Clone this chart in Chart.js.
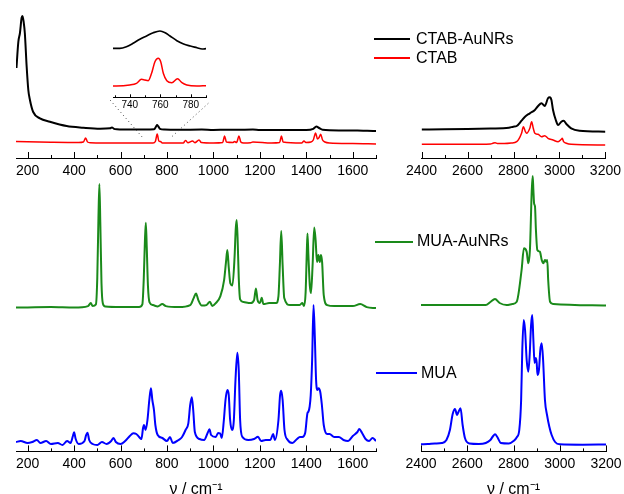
<!DOCTYPE html>
<html>
<head>
<meta charset="utf-8">
<script src="https://cdn.jsdelivr.net/npm/chart.js@4.4.1/dist/chart.umd.min.js"></script>
<style>
body { margin: 0; background: #fff; }
#page { position: relative; width: 624px; height: 494px; overflow: hidden; font-family: 'Liberation Sans', Arial, sans-serif; }
canvas { position: absolute; }
.key { position: absolute; height: 2px; }
.lab { position: absolute; font-size: 16px; line-height: 18px; color: #000; white-space: nowrap; }
</style>
</head>
<body>
<div id="page">
  <canvas id="lowTop" width="400" height="200" style="left:-4px;top:0px"></canvas>
  <canvas id="highTop" width="225" height="200" style="left:401px;top:0px"></canvas>
  <canvas id="inset" width="133" height="94" style="left:93px;top:20px"></canvas>
  <canvas id="lowBot" width="400" height="329" style="left:-4px;top:170px"></canvas>
  <canvas id="highBot" width="225" height="329" style="left:401px;top:170px"></canvas>

  <div class="key" style="left:374px;top:38px;width:36px;background:#000"></div>
  <div class="lab" style="left:416px;top:30px">CTAB-AuNRs</div>
  <div class="key" style="left:374px;top:57px;width:36px;background:#ff0000;height:1.5px"></div>
  <div class="lab" style="left:416px;top:49px">CTAB</div>
  <div class="key" style="left:375px;top:241px;width:38px;background:#1a8a1a"></div>
  <div class="lab" style="left:417px;top:232px">MUA-AuNRs</div>
  <div class="key" style="left:376px;top:372px;width:41px;background:#0000ff"></div>
  <div class="lab" style="left:421px;top:364px">MUA</div>
</div>
<script>
// x ranges and tick labels
const lowRange = [150, 1700];
const highRange = [2400, 3200];
const insetRange = [729, 790];
const lowTicks = [200, 400, 600, 800, 1000, 1200, 1400, 1600];
const highTicks = [2400, 2600, 2800, 3000, 3200];
const insetTicks = [740, 760, 780];

// [wavenumber, intensity (a.u.)]
const ctabAuLow = [[152,62],[160,88],[167,97],[174,112],[178,114],[183,108],[188,97],[196,63],[203,40],[210,30],[224,18],[253,11.7],[296,8.3],[368,4],[440,2.3],[512,1.3],[555,1.7],[563,2.6],[572,1.2],[584,0.7],[650,0.4],[700,0.5],[745,0.8],[752,3],[757,5],[763,3.5],[770,1.2],[790,0.4],[850,0.2],[950,0.4],[1000,0],[1060,0.3],[1100,0.2],[1170,0.5],[1200,0],[1300,0.1],[1400,0],[1430,1.2],[1443,3.5],[1455,2],[1470,0.3],[1550,-0.4],[1620,-0.5],[1662,-0.8],[1700,-1]];
const ctabLow = [[150,1.5],[300,0.8],[420,0.5],[440,1],[450,5],[458,1],[470,0.3],[600,0],[740,0],[750,1.5],[758,9],[765,2],[772,1.5],[780,0],[870,0],[880,2.5],[890,0.3],[910,2],[920,0.3],[938,3],[948,0.5],[1000,0],[1040,0.5],[1048,7],[1056,1],[1085,0.5],[1090,1.5],[1100,0.5],[1110,7],[1118,1],[1130,0],[1160,0.3],[1170,1],[1250,0],[1285,0.5],[1293,7],[1300,1],[1380,0],[1390,2],[1398,0.5],[1420,1],[1430,3],[1440,10],[1448,4],[1455,5.5],[1462,8.7],[1470,3],[1480,1],[1500,0],[1600,-0.5],[1700,-1]];
const ctabAuHigh = [[2400,0.5],[2500,0.7],[2600,1],[2700,1.5],[2780,2.3],[2799,3.3],[2814,4],[2835,9.3],[2850,13.3],[2871,16.7],[2893,20],[2907,24],[2922,26.7],[2936,24],[2950,31.7],[2958,32.7],[2965,30],[2972,20],[2984,10],[2994,5],[3008,8.3],[3018,9.3],[3030,6],[3051,1.7],[3087,-0.7],[3200,-1.7]];
const ctabHigh = [[2400,0],[2600,0],[2700,0.3],[2710,1],[2720,1.6],[2730,0.8],[2760,0.7],[2790,1.2],[2814,2.6],[2835,11],[2843,17.6],[2852,12.6],[2857,11],[2871,16],[2879,22.6],[2886,16],[2893,11],[2907,10],[2922,7.6],[2936,8.6],[2950,6],[2972,4.3],[2994,2.6],[3008,5],[3012,6],[3018,2.6],[3030,1],[3051,0],[3200,-0.7]];
const ctabAuInset = [[729,0.4],[733.4,0.4],[737.8,2],[742.2,5.4],[746.6,9.4],[751,12.7],[755.4,16],[759.8,17.7],[763.2,16],[766.4,12.7],[770.9,8],[775.3,4.7],[779.7,2.7],[784.1,1],[787.4,-0.3],[790,0]];
const ctabInset = [[729,-0.3],[731.2,-0.3],[740,0.7],[744.4,2.4],[747.7,6.4],[749.9,5.7],[752.1,5],[754.3,12.4],[756.5,24],[758.7,27.4],[760.3,24],[762,12.4],[764.3,5],[767.6,3],[771.3,7],[774.2,3],[777.4,0.7],[784.1,-0.3],[790,0]];
const muaAuLow = [[150,-0.2],[300,0.3],[400,-0.2],[460,1.3],[472,4.3],[480,1.3],[494,3],[500,30],[505,90],[509,123.3],[513,85],[518,25],[524,4],[535,0.8],[600,0.3],[680,0.3],[694,3],[700,28],[705,66],[709,84.6],[713,60],[718,22],[725,5],[740,2.3],[760,1],[780,3.3],[795,1.3],[850,0.3],[900,2.3],[915,9.3],[925,14],[935,7.3],[950,1.8],[970,2.3],[985,5.6],[995,1.3],[1010,4.3],[1030,11.3],[1046,27.3],[1054,45],[1060,57.3],[1066,40],[1073,24],[1082,22],[1091,50],[1096,78],[1100,87.3],[1104,70],[1109,30],[1115,8],[1130,5.3],[1160,4.3],[1175,7.3],[1183,19],[1190,7.3],[1200,4.3],[1208,9.6],[1215,3.3],[1240,4.3],[1270,4.3],[1280,11.3],[1286,42],[1292,76.3],[1298,42],[1305,9.3],[1330,2.3],[1370,2.3],[1383,4.3],[1390,1.3],[1397,15],[1402,55],[1405,74],[1409,52],[1415,22],[1420,14.3],[1427,42],[1434,80],[1440,67.3],[1446,45.3],[1452,52.3],[1458,45.3],[1463,52.3],[1468,45.3],[1475,12.3],[1490,2.3],[1520,1.3],[1600,1.3],[1632,3.3],[1660,0.3],[1700,-0.7]];
const muaAuHigh = [[2400,0],[2600,0],[2680,0],[2700,3],[2720,6],[2740,2],[2770,0],[2795,1],[2814,3.3],[2835,35],[2845,56.7],[2857,53.3],[2864,41.7],[2871,55],[2879,115],[2883,129],[2886,115],[2889,101.7],[2893,98.3],[2897,75],[2903,55],[2914,53.3],[2922,45],[2929,41.7],[2936,45],[2941,43.3],[2946,45],[2950,25],[2958,3.3],[2972,1],[3200,-0.5]];
const muaLow = [[150,0.7],[170,1.7],[200,-0.3],[220,0.7],[240,2.7],[255,-0.3],[280,1.7],[300,-1.3],[330,-0.3],[350,-2.3],[370,1.7],[385,-0.3],[395,6.7],[400,10.4],[407,3.7],[420,-1.3],[445,1.7],[452,7.7],[458,10],[465,2.7],[480,-1.3],[500,-2.3],[520,0.7],[540,-1.3],[560,1.7],[570,4.7],[580,0.7],[600,-1.3],[620,1.7],[640,6.7],[655,9.4],[668,8.7],[680,5.7],[690,3.7],[697,14.7],[701,17.7],[708,12.7],[716,22.7],[724,42.7],[731,54.4],[737,42.7],[744,32.7],[750,17.7],[760,7.7],[780,4.7],[800,1.7],[813,5.7],[825,-0.3],[850,2.7],[865,5.7],[880,12.7],[892,19.4],[900,37.7],[907,45.4],[913,32.7],[920,10.7],[940,3.7],[960,2.7],[975,9.7],[983,13.4],[990,7.7],[1010,5.7],[1020,9.7],[1029,9.4],[1036,4.7],[1045,22.7],[1052,42.7],[1060,52.7],[1066,47.7],[1072,22.7],[1080,12.7],[1088,22.7],[1095,62.7],[1103,90],[1109,72.7],[1115,22.7],[1125,5.7],[1150,2.7],[1175,3.7],[1192,6],[1205,1.7],[1225,2.7],[1245,2.7],[1257,8.7],[1265,2.7],[1280,22.7],[1287,47.7],[1292,52],[1298,42.7],[1306,12.7],[1320,2.7],[1340,-0.3],[1360,3.7],[1372,5.7],[1383,5.7],[1395,9.7],[1405,29.7],[1409,31],[1414,35.7],[1419,47.7],[1425,82.7],[1431,137.7],[1437,102.7],[1442,62.7],[1448,52.7],[1453,54.4],[1460,50.7],[1467,37.7],[1475,17.7],[1490,8.7],[1500,8.7],[1520,5.7],[1540,5.7],[1560,2.7],[1580,1.7],[1600,6.7],[1620,10.7],[1628,13.7],[1640,9.7],[1655,3.7],[1670,1.7],[1685,4.7],[1700,1.7]];
const muaHigh = [[2400,0],[2430,0.3],[2460,0.8],[2490,1.3],[2510,4.3],[2525,14.3],[2537,30.3],[2547,35.3],[2556,29.3],[2562,32.3],[2571,36],[2580,19.3],[2590,6.3],[2610,0.8],[2650,0.3],[2680,1.3],[2700,4.3],[2712,8.3],[2720,10],[2730,7.3],[2745,1.3],[2780,0.8],[2800,3.3],[2815,7.3],[2825,14.3],[2833,44.3],[2838,94.3],[2844,124.3],[2850,114.3],[2857,84.3],[2864,72.6],[2870,89.3],[2876,119.3],[2881,129.3],[2886,104.3],[2891,81.3],[2896,86.3],[2900,82.3],[2904,69.3],[2910,74.3],[2916,94.3],[2922,101],[2928,84.3],[2936,44.3],[2945,29.3],[2955,17.6],[2965,9.3],[2980,2.3],[3000,0],[3100,-0.4],[3200,-0.2]];

// dotted guides from the inset axis down to the 760 band
const guideLeft = [[555,58],[698,19.7]];
const guideRight = [[978,54.7],[821,21.3]];

const FONT = "'Liberation Sans', Arial, sans-serif";

// inward major/minor tick marks, Origin style
const inTicks = {
  id: 'inTicks',
  afterDraw(chart, args, opts) {
    const sc = chart.scales.x;
    const ctx = chart.ctx;
    const major = sc.ticks.map(t => t.value);
    const step = major[1] - major[0];
    const minor = [];
    for (let v = major[0] - step / 2; v <= sc.max + 0.01; v += step) {
      if (v >= sc.min) minor.push(v);
    }
    const y0 = sc.top;
    ctx.save();
    ctx.strokeStyle = '#000';
    ctx.lineWidth = 1;
    ctx.beginPath();
    major.forEach(v => {
      const x = Math.round(sc.getPixelForValue(v)) + 0.5;
      ctx.moveTo(x, y0); ctx.lineTo(x, y0 - opts.major);
    });
    minor.forEach(v => {
      const x = Math.round(sc.getPixelForValue(v)) + 0.5;
      ctx.moveTo(x, y0); ctx.lineTo(x, y0 - opts.minor);
    });
    ctx.stroke();
    ctx.restore();
  }
};

function trace(pairs, shift, color, width, dash) {
  return {
    data: pairs.map(p => ({x: p[0], y: p[1] + shift})),
    borderColor: color,
    borderWidth: width,
    borderDash: dash || [],
    pointRadius: 0,
    showLine: true,
    cubicInterpolationMode: dash ? 'default' : 'monotone',
    tension: dash ? 0 : 0.4,
    borderJoinStyle: 'round',
    fill: false
  };
}

function makePanel(id, o) {
  return new Chart(document.getElementById(id), {
    type: 'scatter',
    data: {datasets: o.datasets},
    options: {
      responsive: false,
      animation: false,
      events: [],
      layout: {padding: o.pad},
      plugins: {
        legend: {display: false},
        tooltip: {enabled: false},
        inTicks: {major: o.major, minor: o.minor}
      },
      scales: {
        x: {
          type: 'linear',
          min: o.range[0],
          max: o.range[1],
          afterBuildTicks: s => { s.ticks = o.ticks.map(v => ({value: v})); },
          grid: {display: false, drawTicks: false},
          border: {display: true, color: '#000', width: 1},
          ticks: {
            font: {family: FONT, size: o.fontSize},
            color: '#000',
            padding: o.tickPad,
            maxRotation: 0,
            autoSkip: false,
            callback: v => String(v)
          },
          title: o.title
            ? {display: true, text: o.title, color: '#000', font: {family: FONT, size: 16}, padding: {top: 3.6, bottom: 0}}
            : {display: false}
        },
        y: {display: false, min: 0, max: o.yMax}
      }
    },
    plugins: [inTicks]
  });
}

const topPad = {left: 20, right: 20, top: 8, bottom: 15.2};
const botPad = {left: 20, right: 20, top: 2, bottom: 0};

makePanel('lowTop', {
  range: lowRange, ticks: lowTicks, pad: topPad, yMax: 150, fontSize: 14, tickPad: 5, major: 6, minor: 3,
  datasets: [
    trace(guideLeft, 0, '#444', 1, [1, 3]),
    trace(guideRight, 0, '#444', 1, [1, 3]),
    trace(ctabLow, 15, '#ff0000', 1.5),
    trace(ctabAuLow, 28, '#000', 2)
  ]
});

makePanel('highTop', {
  range: highRange, ticks: highTicks, pad: topPad, yMax: 150, fontSize: 14, tickPad: 5, major: 6, minor: 3,
  datasets: [
    trace(ctabHigh, 13.7, '#ff0000', 1.5),
    trace(ctabAuHigh, 28, '#000', 2)
  ]
});

makePanel('inset', {
  range: insetRange, ticks: insetTicks, pad: {left: 20, right: 20, top: 0, bottom: 0.7}, yMax: 77.3, fontSize: 10, tickPad: 2, major: 3, minor: 2,
  datasets: [
    trace(ctabInset, 11.6, '#ff0000', 1.5),
    trace(ctabAuInset, 48.6, '#000', 1.7)
  ]
});

makePanel('lowBot', {
  range: lowRange, ticks: lowTicks, pad: botPad, yMax: 279.4, fontSize: 14, tickPad: 4, major: 6, minor: 3, title: 'ν / cm⁻¹',
  datasets: [
    trace(muaLow, 8.7, '#0000ff', 2),
    trace(muaAuLow, 144, '#1a8a1a', 2)
  ]
});

makePanel('highBot', {
  range: highRange, ticks: highTicks, pad: botPad, yMax: 279.4, fontSize: 14, tickPad: 4, major: 6, minor: 3, title: 'ν / cm⁻¹',
  datasets: [
    trace(muaHigh, 7.1, '#0000ff', 2),
    trace(muaAuHigh, 146.4, '#1a8a1a', 2)
  ]
});
</script>
</body>
</html>
